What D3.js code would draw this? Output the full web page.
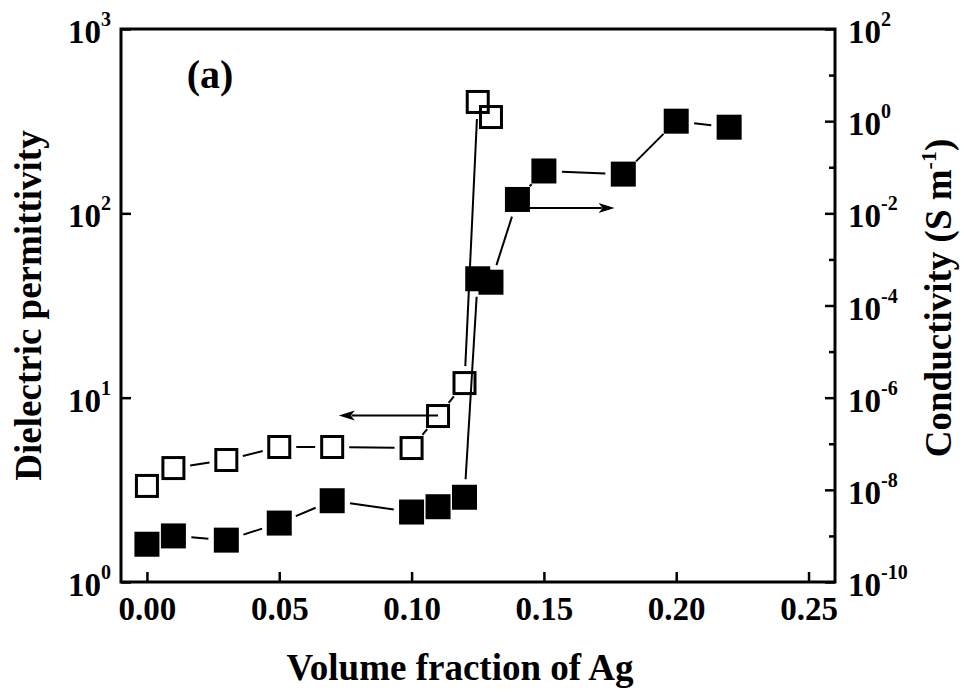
<!DOCTYPE html>
<html><head><meta charset="utf-8">
<script src="https://cdn.jsdelivr.net/npm/d3@7"></script>
<style>body{margin:0;background:#fff} svg{display:block}</style>
</head><body><svg id="c" width="964" height="698"></svg>
<script>
// ---- data ----
const permFraction = [0.00, 0.01, 0.03, 0.05, 0.07, 0.10, 0.11, 0.12, 0.125, 0.13];
const permittivity = [3.32, 4.15, 4.59, 5.40, 5.40, 5.33, 7.95, 12.0, 402, 333];
const condFraction = [0.00, 0.01, 0.03, 0.05, 0.07, 0.10, 0.11, 0.12, 0.125, 0.13, 0.14, 0.15, 0.18, 0.20, 0.22];
const conductivity = [6.6e-10, 1.0e-9, 8.1e-10, 1.9e-9, 5.8e-9, 3.3e-9, 4.3e-9, 6.9e-9, 3.8e-4, 3.2e-4, 2.0e-2, 8.3e-2, 7.1e-2, 1.0, 0.74];
const xTicks = [0.00, 0.05, 0.10, 0.15, 0.20, 0.25];
const xTickLabels = ["0.00", "0.05", "0.10", "0.15", "0.20", "0.25"];
const leftTickExp = [0, 1, 2, 3];
const rightTickExp = [-10, -8, -6, -4, -2, 0, 2];
const rightMinorExp = [-9, -7, -5, -3, -1, 1];
// arrows: [x0, x1, y] in data units
const permArrow = [0.11, 0.0725, 8.0];
const condArrow = [0.14, 0.1767, 1.3e-2];
const panelLabel = "(a)";
const xTitle = "Volume fraction of Ag";
const yLeftTitle = "Dielectric permittivity";

// ---- layout ----
const L = 121, R = 835, T = 29, B = 582;
const FONT = "'Liberation Serif','Times New Roman',serif";
const svg = d3.select("#c");

const x = d3.scaleLinear().domain([-0.0098, 0.26]).range([L, R]);
const yL = d3.scaleLog().domain([1, 1000]).range([B, T]);
const yR = d3.scaleLog().domain([1e-10, 1e2]).range([B, T]);

// ---- axes (ticks inward) ----
const gx = svg.append("g").attr("transform", `translate(0,${B})`)
  .call(d3.axisBottom(x).tickValues(xTicks).tickSizeInner(-10).tickSizeOuter(0)
    .tickPadding(15).tickFormat((d, i) => xTickLabels[i]));
gx.select(".domain").remove();
gx.selectAll(".tick line").attr("stroke", "#000").attr("stroke-width", 2.5);
gx.selectAll(".tick text").attr("font-family", FONT).attr("font-weight", "bold")
  .attr("font-size", 33).attr("fill", "#000");

const gl = svg.append("g").attr("transform", `translate(${L},0)`)
  .call(d3.axisLeft(yL).tickValues(leftTickExp.map(e => Math.pow(10, e))).tickSizeInner(-10).tickSizeOuter(0).tickFormat(""));
gl.select(".domain").remove();
gl.selectAll(".tick line").attr("stroke", "#000").attr("stroke-width", 2.5);

const gr = svg.append("g").attr("transform", `translate(${R},0)`)
  .call(d3.axisRight(yR).tickValues(rightTickExp.map(e => Math.pow(10, e))).tickSizeInner(-10).tickSizeOuter(0).tickFormat(""));
gr.select(".domain").remove();
gr.selectAll(".tick line").attr("stroke", "#000").attr("stroke-width", 2.5);
const grm = svg.append("g").attr("transform", `translate(${R},0)`)
  .call(d3.axisRight(yR).tickValues(rightMinorExp.map(e => Math.pow(10, e))).tickSizeInner(-6).tickSizeOuter(0).tickFormat(""));
grm.select(".domain").remove();
grm.selectAll(".tick line").attr("stroke", "#000").attr("stroke-width", 2.5);

// frame
svg.append("rect").attr("x", L).attr("y", T).attr("width", R - L).attr("height", B - T)
  .attr("fill", "none").attr("stroke", "#000").attr("stroke-width", 3);

// power-of-ten labels
function powLabel(xp, yp, exp, anchor) {
  const t = svg.append("text").attr("x", xp).attr("y", yp)
    .attr("font-family", FONT).attr("font-weight", "bold").attr("fill", "#000")
    .attr("text-anchor", anchor);
  t.append("tspan").attr("font-size", 33).text("10");
  t.append("tspan").attr("font-size", 20).attr("dy", -17).text(String(exp));
}
leftTickExp.forEach(e => powLabel(111, yL(Math.pow(10, e)) + 14, e, "end"));
rightTickExp.forEach(e => powLabel(848, yR(Math.pow(10, e)) + 14, e, "start"));

// ---- connecting lines with gaps ----
function gapLines(pts, gap) {
  const segs = [];
  for (let i = 0; i < pts.length - 1; i++) {
    const [x0, y0] = pts[i], [x1, y1] = pts[i + 1];
    const dx = x1 - x0, dy = y1 - y0, len = Math.hypot(dx, dy);
    if (len <= 2 * gap + 2) continue;
    const ux = dx / len, uy = dy / len;
    segs.push([[x0 + ux * gap, y0 + uy * gap], [x1 - ux * gap, y1 - uy * gap]]);
  }
  return segs;
}
const permPts = permFraction.map((f, i) => [x(f), yL(permittivity[i])]);
const condPts = condFraction.map((f, i) => [x(f), yR(conductivity[i])]);

const lineGen = d3.line();
svg.append("g").selectAll("path").data(gapLines(condPts, 18)).join("path")
  .attr("d", lineGen).attr("stroke", "#000").attr("stroke-width", 2).attr("fill", "none");
svg.append("g").selectAll("path").data(gapLines(permPts, 17)).join("path")
  .attr("d", lineGen).attr("stroke", "#000").attr("stroke-width", 2).attr("fill", "none");

// ---- markers ----
const S = 25;
svg.append("g").selectAll("rect").data(condPts).join("rect")
  .attr("x", d => d[0] - S / 2).attr("y", d => d[1] - S / 2)
  .attr("width", S).attr("height", S).attr("fill", "#000");
const So = 21;
svg.append("g").selectAll("rect").data(permPts).join("rect")
  .attr("x", d => d[0] - So / 2).attr("y", d => d[1] - So / 2)
  .attr("width", So).attr("height", So).attr("fill", "#fff").attr("fill-opacity", 0)
  .attr("stroke", "#000").attr("stroke-width", 3);

// ---- arrows ----
function arrow(x0, x1, yp) {
  const dir = Math.sign(x1 - x0), hl = 16, hw = 5;
  svg.append("line").attr("x1", x0).attr("x2", x1 - dir * hl * 0.8).attr("y1", yp).attr("y2", yp)
    .attr("stroke", "#000").attr("stroke-width", 2);
  svg.append("path").attr("d", `M${x1},${yp} L${x1 - dir * hl},${yp - hw} L${x1 - dir * hl * 0.75},${yp} L${x1 - dir * hl},${yp + hw} Z`)
    .attr("fill", "#000");
}
arrow(x(permArrow[0]), x(permArrow[1]), yL(permArrow[2]));
arrow(x(condArrow[0]), x(condArrow[1]), yR(condArrow[2]));

// ---- text ----
svg.append("text").attr("x", 210).attr("y", 88).attr("text-anchor", "middle")
  .attr("font-family", FONT).attr("font-weight", "bold").attr("font-size", 40).text(panelLabel);

svg.append("text").attr("x", 460).attr("y", 680).attr("text-anchor", "middle")
  .attr("font-family", FONT).attr("font-weight", "bold").attr("font-size", 37).text(xTitle);

svg.append("text").attr("transform", `translate(41,${(T + B) / 2}) rotate(-90)`).attr("text-anchor", "middle")
  .attr("font-family", FONT).attr("font-weight", "bold").attr("font-size", 37).text(yLeftTitle);

const rt = svg.append("text").attr("transform", `translate(951,298) rotate(-90)`).attr("text-anchor", "middle")
  .attr("font-family", FONT).attr("font-weight", "bold").attr("font-size", 37);
rt.append("tspan").text("Conductivity (S m");
rt.append("tspan").attr("font-size", 22).attr("dy", -15).text("-1");
rt.append("tspan").attr("dy", 15).text(")");
</script></body></html>
